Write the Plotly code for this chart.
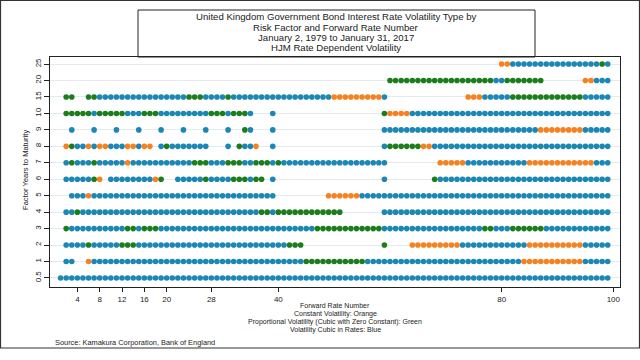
import plotly.graph_objects as go

# Row labels (factor years to maturity), bottom to top
y_labels = ["0.5", "1", "2", "3", "4", "5", "6", "7", "8", "9", "10", "15", "20", "25"]
x_ticks = [4, 8, 12, 16, 20, 28, 40, 80, 100]

# Runs of forward rate numbers: (first, last, type)
# B = Volatility Cubic in Rates (blue), O = Constant (orange), G = Proportional (green)
f_0_5 = [(1, 99, "B")]
f_1 = [(2, 3, "B"), (6, 6, "O"), (7, 44, "B"), (45, 55, "G"), (56, 83, "B"), (84, 94, "O"), (95, 99, "B")]
f_2 = [(2, 5, "B"), (6, 6, "G"), (7, 11, "B"), (12, 14, "G"), (15, 41, "B"), (42, 44, "G"), (59, 59, "G"),
       (64, 72, "O"), (73, 84, "B"), (85, 94, "O"), (95, 99, "B")]
f_3 = [(2, 2, "G"), (3, 12, "B"), (13, 14, "G"), (15, 15, "B"), (16, 18, "G"), (19, 46, "B"), (47, 58, "G"),
       (59, 76, "B"), (77, 78, "G"), (79, 81, "B"), (82, 87, "G"), (88, 99, "B")]
f_4 = [(2, 3, "B"), (4, 4, "G"), (5, 36, "B"), (37, 38, "G"), (39, 39, "B"), (40, 51, "G"), (59, 99, "B")]
f_5 = [(3, 5, "B"), (6, 6, "O"), (7, 39, "B"), (49, 54, "O"), (55, 99, "B")]
f_6 = [(2, 6, "B"), (7, 7, "G"), (8, 8, "O"), (10, 17, "B"), (18, 18, "O"), (19, 19, "G"), (22, 26, "B"),
       (27, 27, "G"), (28, 31, "B"), (32, 34, "G"), (35, 35, "B"), (36, 37, "G"), (39, 39, "B"),
       (59, 59, "B"), (68, 68, "G"), (69, 99, "B")]
f_7 = [(2, 2, "B"), (3, 3, "G"), (4, 6, "B"), (7, 7, "G"), (8, 12, "B"), (13, 13, "O"), (14, 24, "B"),
       (25, 27, "G"), (28, 30, "B"), (31, 33, "G"), (34, 35, "B"), (36, 38, "G"), (39, 39, "B"), (40, 40, "G"),
       (41, 59, "B"), (69, 73, "O"), (74, 84, "B"), (85, 96, "O"), (97, 99, "B")]
f_8 = [(2, 2, "O"), (3, 3, "G"), (4, 5, "B"), (6, 6, "O"), (7, 7, "B"), (8, 9, "O"), (10, 12, "B"),
       (13, 14, "O"), (15, 15, "B"), (16, 17, "O"), (19, 19, "B"), (20, 20, "G"), (21, 27, "B"),
       (31, 31, "B"), (33, 33, "G"), (34, 35, "B"), (36, 36, "O"), (39, 39, "B"),
       (59, 59, "B"), (60, 65, "G"), (66, 67, "O"), (68, 99, "B")]
f_9 = [(3, 3, "B"), (7, 7, "B"), (11, 11, "B"), (15, 15, "B"), (19, 19, "B"), (23, 23, "B"), (27, 27, "B"),
       (31, 31, "B"), (34, 34, "G"), (35, 35, "B"), (39, 39, "B"), (59, 86, "B"), (87, 94, "O"), (95, 99, "B")]
f_10 = [(2, 6, "G"), (7, 7, "B"), (8, 12, "G"), (13, 15, "B"), (16, 18, "G"), (19, 27, "B"), (28, 30, "G"),
        (31, 31, "B"), (32, 34, "G"), (35, 35, "B"), (39, 39, "B"), (59, 59, "G"), (60, 63, "O"), (64, 99, "B")]
f_15 = [(2, 3, "G"), (6, 7, "G"), (8, 23, "B"), (24, 26, "G"), (27, 30, "B"), (31, 31, "G"), (32, 49, "B"),
        (50, 58, "O"), (59, 59, "B"), (74, 76, "O"), (77, 81, "B"), (82, 94, "G"), (95, 99, "B")]
f_20 = [(60, 78, "G"), (79, 80, "B"), (81, 87, "G"), (95, 96, "O"), (97, 99, "B")]
f_25 = [(80, 81, "O"), (82, 97, "B"), (98, 98, "G"), (99, 99, "B")]

rows = [f_0_5, f_1, f_2, f_3, f_4, f_5, f_6, f_7, f_8, f_9, f_10, f_15, f_20, f_25]

colors = {"B": "#1a87b5", "O": "#f58220", "G": "#1b7d1b"}
names = {"B": "Volatility Cubic in Rates", "O": "Constant Volatility",
         "G": "Proportional Volatility"}

xs = {k: [] for k in colors}
ys = {k: [] for k in colors}
for yi, segs in enumerate(rows):
    for a, b, t in segs:
        for x in range(a, b + 1):
            xs[t].append(x)
            ys[t].append(yi)

fig = go.Figure()
for k in ["B", "O", "G"]:
    fig.add_trace(go.Scatter(x=xs[k], y=ys[k], mode="markers", name=names[k],
                             marker=dict(color=colors[k], size=5.6, line=dict(width=0))))

FONT = "Liberation Sans, Arial, sans-serif"
L, R, T, B = 50, 20, 57, 73
PW, PH = 640 - L - R, 360 - T - B


def px(x):
    return (x - L) / PW


def py(y):
    return (360 - B - y) / PH


fig.update_layout(
    width=640, height=360,
    margin=dict(l=L, r=R, t=T, b=B),
    paper_bgcolor="white", plot_bgcolor="white",
    showlegend=False,
    font=dict(family=FONT, color="#222", size=8),
)
fig.update_xaxes(range=[-0.9, 101.2], tickvals=x_ticks, ticks="outside", ticklen=4, tickcolor="#222",
                 showline=True, mirror=True, linecolor="#222", linewidth=1,
                 showgrid=False, zeroline=False, tickfont=dict(size=8, family=FONT))
fig.update_yaxes(range=[-0.55, 13.43], tickvals=list(range(len(y_labels))), ticktext=y_labels,
                 tickangle=-90, ticks="outside", ticklen=5, tickcolor="#222",
                 showline=True, mirror=True, linecolor="#222", linewidth=1,
                 showgrid=True, gridcolor="#e4ebef", gridwidth=1, zeroline=False,
                 tickfont=dict(size=8, family=FONT))

title_lines = ["United Kingdom Government Bond Interest Rate Volatility Type by",
               "Risk Factor and Forward Rate Number",
               "January 2, 1979 to January 31, 2017",
               "HJM Rate Dependent Volatility"]
for i, line in enumerate(title_lines):
    fig.add_annotation(x=px(336), y=py(17 + 10 * i), xref="paper", yref="paper", text=line,
                       showarrow=False, xanchor="center", yanchor="middle",
                       font=dict(size=9.6, family=FONT, color="#222"))

bottom_lines = ["Forward Rate Number", "Constant Volatility: Orange",
                "Proportional Volatility (Cubic with Zero Constant): Green",
                "Volatility Cubic in Rates: Blue"]
for i, line in enumerate(bottom_lines):
    fig.add_annotation(x=px(335), y=py(305.5 + 8 * i), xref="paper", yref="paper", text=line,
                       showarrow=False, xanchor="center", yanchor="middle",
                       font=dict(size=7, family=FONT, color="#222"))

fig.add_annotation(x=px(53), y=py(342), xref="paper", yref="paper",
                   text="Source: Kamakura Corporation, Bank of England",
                   showarrow=False, xanchor="left", yanchor="middle",
                   font=dict(size=7.4, family=FONT, color="#222"))

fig.add_annotation(x=px(25), y=py(170), xref="paper", yref="paper", text="Factor Years to Maturity",
                   showarrow=False, textangle=-90, xanchor="center", yanchor="middle",
                   font=dict(size=7.6, family=FONT, color="#222"))

# title box and outer frame
fig.add_shape(type="rect", xref="paper", yref="paper", x0=px(138), x1=px(535), y0=py(57), y1=py(10),
              line=dict(color="#222", width=1), fillcolor="rgba(0,0,0,0)")
fig.add_shape(type="rect", xref="paper", yref="paper", x0=px(0.5), x1=px(639.5), y0=py(348), y1=py(0.5),
              line=dict(color="#333", width=1.2), fillcolor="rgba(0,0,0,0)")

fig.write_html("out.html", config={"displayModeBar": False},
               post_script="document.body.style.margin='0';document.body.style.overflow='hidden';")
